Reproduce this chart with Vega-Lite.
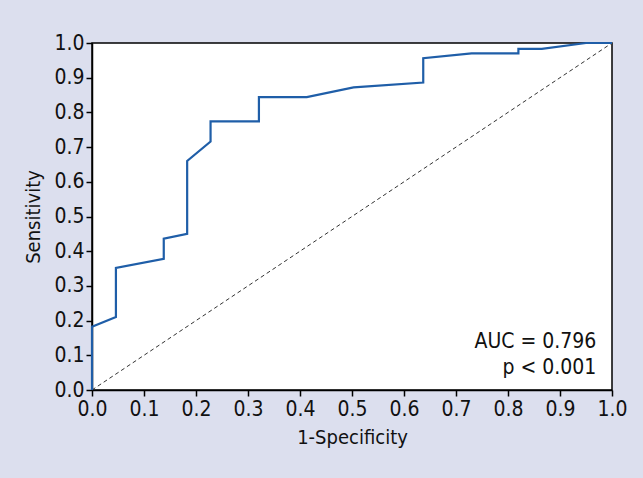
{
  "$schema": "https://vega.github.io/schema/vega-lite/v6.json",
  "width": 520,
  "height": 347,
  "autosize": {"type": "none"},
  "padding": {"left": 92, "top": 43, "right": 31, "bottom": 88},
  "background": "#dcdfee",
  "config": {
    "font": "DejaVu Sans Condensed, Liberation Sans Narrow, Roboto",
    "view": {"stroke": "#000000", "strokeWidth": 1.5, "fill": "#ffffff"},
    "axis": {
      "domainColor": "#000000",
      "domainWidth": 1.5,
      "tickColor": "#000000",
      "tickWidth": 1.5,
      "tickSize": 6,
      "labelFontSize": 21,
      "labelColor": "#111111",
      "labelOverlap": false,
      "labelFont": "DejaVu Sans Condensed, Liberation Sans Narrow, Roboto",
      "titleFont": "DejaVu Sans Condensed, Liberation Sans Narrow, Roboto",
      "titleFontSize": 20,
      "titleFontWeight": "normal",
      "titleColor": "#111111",
      "grid": false
    },
    "axisY": {"labelOverlap": false}
  },
  "datasets": {
    "roc": [
      {"fpr": 0.0, "tpr": 0.0, "o": 0},
      {"fpr": 0.0, "tpr": 0.182, "o": 1},
      {"fpr": 0.046, "tpr": 0.21, "o": 2},
      {"fpr": 0.046, "tpr": 0.352, "o": 3},
      {"fpr": 0.138, "tpr": 0.378, "o": 4},
      {"fpr": 0.138, "tpr": 0.436, "o": 5},
      {"fpr": 0.183, "tpr": 0.45, "o": 6},
      {"fpr": 0.183, "tpr": 0.66, "o": 7},
      {"fpr": 0.228, "tpr": 0.716, "o": 8},
      {"fpr": 0.228, "tpr": 0.774, "o": 9},
      {"fpr": 0.321, "tpr": 0.774, "o": 10},
      {"fpr": 0.321, "tpr": 0.844, "o": 11},
      {"fpr": 0.413, "tpr": 0.844, "o": 12},
      {"fpr": 0.503, "tpr": 0.872, "o": 13},
      {"fpr": 0.637, "tpr": 0.886, "o": 14},
      {"fpr": 0.637, "tpr": 0.956, "o": 15},
      {"fpr": 0.73, "tpr": 0.97, "o": 16},
      {"fpr": 0.82, "tpr": 0.97, "o": 17},
      {"fpr": 0.82, "tpr": 0.983, "o": 18},
      {"fpr": 0.865, "tpr": 0.983, "o": 19},
      {"fpr": 0.95, "tpr": 1.0, "o": 20},
      {"fpr": 1.0, "tpr": 1.0, "o": 21}
    ],
    "diag": [
      {"fpr": 0, "tpr": 0},
      {"fpr": 1, "tpr": 1}
    ],
    "notes": [
      {"fpr": 0.97, "tpr": 0.138, "label": "AUC = 0.796"},
      {"fpr": 0.97, "tpr": 0.063, "label": "p < 0.001"}
    ]
  },
  "encoding": {
    "x": {"field": "fpr", "type": "quantitative", "scale": {"domain": [0, 1], "nice": false},
      "axis": {"title": "1-Specificity", "values": [0, 0.1, 0.2, 0.3, 0.4, 0.5, 0.6, 0.7, 0.8, 0.9, 1.0], "format": ".1f", "labelPadding": 2, "titlePadding": 8, "labelFlush": false, "labelOverlap": false}},
    "y": {"field": "tpr", "type": "quantitative", "scale": {"domain": [0, 1], "nice": false},
      "axis": {"title": "Sensitivity", "values": [0, 0.1, 0.2, 0.3, 0.4, 0.5, 0.6, 0.7, 0.8, 0.9, 1.0], "format": ".1f", "labelPadding": 2, "titlePadding": 10, "labelFlush": false, "labelOverlap": false}}
  },
  "layer": [
    {
      "data": {"name": "diag"},
      "mark": {"type": "line", "color": "#333333", "strokeWidth": 1, "strokeDash": [4, 3]}
    },
    {
      "data": {"name": "roc"},
      "mark": {"type": "line", "color": "#1f5ea8", "strokeWidth": 2.2},
      "encoding": {
        "order": {"field": "o", "type": "quantitative"}
      }
    },
    {
      "data": {"name": "notes"},
      "mark": {"type": "text", "align": "right", "baseline": "middle", "fontSize": 21, "color": "#111111"},
      "encoding": {
        "text": {"field": "label"}
      }
    }
  ]
}
